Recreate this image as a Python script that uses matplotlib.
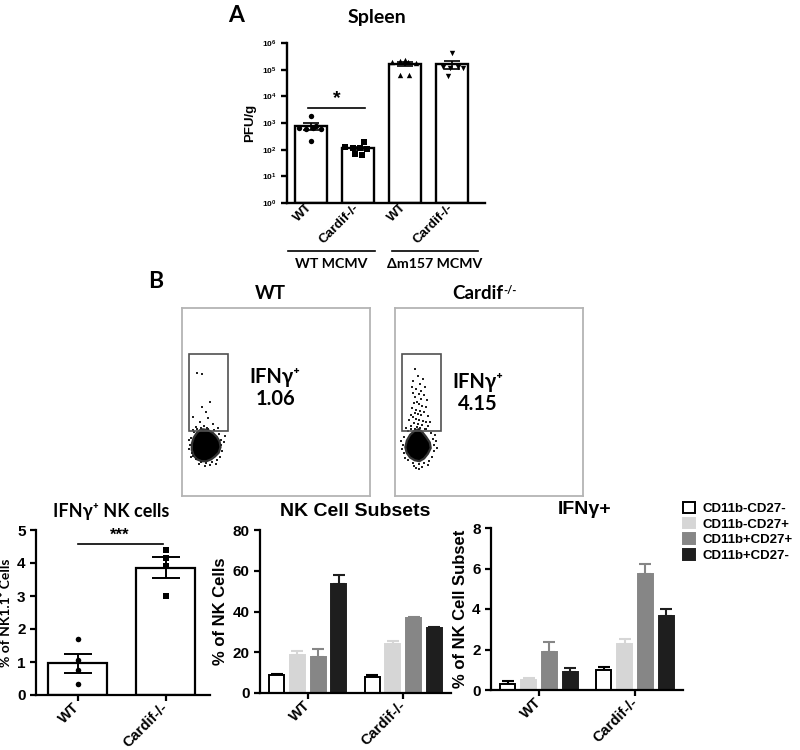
"""Spleen titres, IFNg flow plots and NK subset bars (panels A and B)."""

import numpy as np
import matplotlib

matplotlib.use("Agg")
import matplotlib.pyplot as plt
from matplotlib.patches import Rectangle, Polygon, Patch

W, H = 800, 750
ARIAL = ["Liberation Sans", "DejaVu Sans"]
CALIBRI = ["Lato", "DejaVu Sans"]

# ---- panel A: PFU/g in spleen
SPLEEN_TICKS = ["WT", "Cardif-/-", "WT", "Cardif-/-"]
SPLEEN_GROUPS = ["WT MCMV", "Δm157 MCMV"]
SPLEEN_WT = [1900, 750, 640, 620, 650, 600, 220]
SPLEEN_CARDIF = [190, 125, 120, 115, 110, 68, 65]
SPLEEN_M157_WT = [190000, 210000, 200000, 185000, 230000, 62000, 62000]
SPLEEN_M157_CARDIF = [420000, 130000, 120000, 125000, 115000, 60000]

# ---- panel B: flow plots (axis units 0-100)
FLOW_TITLES = ["WT", "Cardif"]
FLOW_PCT = ["1.06", "4.15"]
WT_CORE_OUTLINE = [(11, 35.5), (14, 35), (16.5, 33.5), (18.5, 31.5), (20, 29), (20.5, 26),
                   (19.5, 23), (17.5, 21), (15.5, 19.5), (13, 18.5), (10.5, 18.5), (8, 19.5),
                   (6.2, 21.5), (5.2, 24.5), (5.3, 28), (6.2, 31), (7.8, 33.5), (9.5, 35)]
CARDIF_CORE_OUTLINE = [(12.5, 35.5), (14.5, 34), (16.5, 31.5), (18.5, 28.5), (19, 25.5),
                       (17.5, 22.5), (15.5, 20), (13, 18.5), (10.5, 19), (8, 20.5),
                       (6.2, 23), (5.5, 26), (6.3, 29.5), (8, 32.5), (10.5, 34.8)]
WT_GATE_EVENTS = [(8.2, 65.3), (10.5, 64.9), (14.9, 50.2), (10.5, 47.5), (12.8, 44.8),
                  (6.0, 42.2), (14.0, 41.3), (9.6, 39.5), (16.5, 38.5), (11.5, 37.2),
                  (7.5, 36.5), (13.5, 36.0)]
WT_EDGE_EVENTS = [(4.5, 27), (5.0, 31), (5.2, 23), (4.8, 20.5), (6.5, 34), (8, 35.5),
                  (10, 36), (14, 35.8), (17, 35), (19.5, 33), (20.5, 30), (21, 27),
                  (21.5, 24), (20, 21), (18.5, 19), (16, 18), (13, 17.5), (10, 18),
                  (7.5, 19.5), (6, 21.5), (3.8, 25), (22.3, 28.5), (19, 36.4),
                  (5.7, 35.2), (9, 16.8), (15, 16.5), (23, 32), (3.5, 30), (12, 16),
                  (18, 17.2)]
CARDIF_GATE_EVENTS = [(10.5, 67.5), (12, 64), (14.8, 62.5), (9.8, 61), (13.2, 59.5),
                      (16, 58.2), (11, 57), (14, 56), (9.5, 55), (12.8, 54.2),
                      (15.5, 53.5), (10.8, 52.4), (13.6, 51.5), (17, 51), (11.8, 50.2),
                      (9.2, 57.8), (10.2, 49.4), (12.5, 48.8), (14.6, 48.1), (16.4, 47.4),
                      (9.1, 46.6), (11.4, 46), (13.3, 45.4), (15.2, 44.8), (10.4, 44.1),
                      (12.1, 43.5), (14, 42.9), (17.8, 42.6), (8.4, 43.2), (9.6, 41.8),
                      (11.2, 41.2), (13, 40.6), (15.1, 40.1), (16.7, 39.6), (10.1, 39),
                      (12.2, 38.4), (14.2, 37.9), (8.7, 37.3), (11.5, 36.8), (13.4, 36.3),
                      (15.8, 35.9), (10.6, 35.4), (12.8, 35), (17.5, 37), (7.6, 40.5),
                      (18.6, 39.2)]
CARDIF_EDGE_EVENTS = [(4.0, 27), (4.6, 31.5), (5.0, 23), (5.5, 20), (6.8, 34.5),
                      (8.5, 35.8), (16.5, 35.5), (19, 33.5), (20, 30.5), (20.5, 27),
                      (20.8, 24), (19.5, 21), (18, 18.8), (15.5, 17.5), (12.5, 16.8),
                      (9.5, 17.6), (7, 19), (3.5, 25), (21.8, 29), (6, 36), (10, 15.8),
                      (14.5, 15.5), (22.5, 25.5), (3.2, 29.5), (17.5, 16.5), (11, 14.8),
                      (13, 14.2), (21.5, 32.5)]

# ---- IFNg+ NK cells (% of NK1.1+)
NK_TICKS = ["WT", "Cardif-/-"]
NK_WT = [1.7, 1.05, 0.75, 0.32]
NK_CARDIF = [4.4, 4.15, 3.9, 3.0]

# ---- NK subsets
SUBSETS = ["CD11b-CD27-", "CD11b-CD27+", "CD11b+CD27+", "CD11b+CD27-"]
SUBSET_PCT_WT = [8.7, 18.5, 17.8, 53.3]
SUBSET_SEM_WT = [0.5, 1.9, 4.0, 4.8]
SUBSET_PCT_CARDIF = [7.7, 24.2, 36.8, 31.8]
SUBSET_SEM_CARDIF = [1.1, 1.1, 0.6, 0.8]
IFNG_PCT_WT = [0.28, 0.48, 1.86, 0.90]
IFNG_SEM_WT = [0.18, 0.13, 0.52, 0.20]
IFNG_PCT_CARDIF = [1.00, 2.26, 5.72, 3.66]
IFNG_SEM_CARDIF = [0.12, 0.24, 0.50, 0.34]

SUBSET_FACE = ["white", "#d6d6d6", "#868686", "#1e1e1e"]
SUBSET_EDGE = ["black", "#d6d6d6", "#868686", "#1e1e1e"]


def add_axes_px(fig, left, top, right, bottom):
    return fig.add_axes([left / W, 1 - bottom / H, (right - left) / W, (bottom - top) / H])


def fig_text(fig, x, y, s, **kw):
    return fig.text(x / W, 1 - y / H, s, ha="center", va="center", **kw)


def style_axes(ax, lw=1.6, labelsize=11):
    for side in ("top", "right"):
        ax.spines[side].set_visible(False)
    for side in ("left", "bottom"):
        ax.spines[side].set_linewidth(lw)
    ax.tick_params(direction="out", length=4, width=lw, labelsize=labelsize)


def mean_sem(vals):
    vals = np.asarray(vals, dtype=float)
    return vals.mean(), vals.std(ddof=1) / np.sqrt(len(vals))


def panel_a(fig):
    ax = add_axes_px(fig, 287, 43, 485, 203)
    ax.set_yscale("log")
    groups = [SPLEEN_WT, SPLEEN_CARDIF, SPLEEN_M157_WT, SPLEEN_M157_CARDIF]
    jitter = [[0, 0.11, -0.24, -0.09, 0.06, 0.22, 0],
              [0.13, -0.26, -0.1, 0.05, 0.2, -0.06, 0.1],
              [-0.26, -0.09, 0.07, 0.25, 0, -0.09, 0.09],
              [0, -0.18, -0.04, 0.14, 0.25, -0.07]]
    markers = ["o", "s", "^", "v"]
    for i, vals in enumerate(groups):
        m, s = mean_sem(vals)
        ax.bar(i, m - 1, bottom=1, width=0.68, color="white", edgecolor="black",
               linewidth=1.7, zorder=2)
        ax.errorbar(i, m, yerr=s, color="black", capsize=6, elinewidth=1.2,
                    capthick=1.2, zorder=3)
        ax.scatter(i + np.array(jitter[i]), vals, marker=markers[i], s=15,
                   color="black", linewidths=0, zorder=4)
    ax.set_ylim(1, 1e6)
    ax.set_xlim(-0.5, 3.71)
    ax.set_yticks([10.0 ** k for k in range(7)])
    ax.minorticks_off()
    style_axes(ax, lw=1.7, labelsize=6)
    ax.tick_params(axis="x", length=0, pad=2)
    ax.set_xticks(range(4))
    ax.set_xticklabels(SPLEEN_TICKS, rotation=45, ha="right", va="center",
                       rotation_mode="anchor", fontsize=9.5)
    ax.set_ylabel("PFU/g", fontsize=9.5, labelpad=4)

    ax.plot([-0.05, 1.16], [10 ** 3.56] * 2, color="black", lw=1.2)
    ax.text(0.56, 10 ** 3.6, "*", ha="center", va="bottom", fontsize=14)

    tr = ax.get_xaxis_transform()
    ax.plot([-0.48, 1.37], [-0.3, -0.3], color="black", lw=1.2, transform=tr, clip_on=False)
    ax.plot([1.73, 3.56], [-0.3, -0.3], color="black", lw=1.2, transform=tr, clip_on=False)
    ax.text(0.445, -0.38, SPLEEN_GROUPS[0], transform=tr, ha="center", va="center",
            family=CALIBRI, fontsize=10.2)
    ax.text(2.645, -0.38, SPLEEN_GROUPS[1], transform=tr, ha="center", va="center",
            family=CALIBRI, fontsize=10.2)

    fig_text(fig, 377, 18, "Spleen", family=CALIBRI, fontsize=14)
    fig_text(fig, 236, 15, "A", family=CALIBRI, fontsize=16.5)


def flow_plot(fig, left, outline, gate_events, edge_events, pct, label_xy):
    ax = add_axes_px(fig, left, 308, left + 188, 496)
    ax.set_xlim(0, 100)
    ax.set_ylim(0, 100)
    ax.set_xticks([])
    ax.set_yticks([])
    for sp in ax.spines.values():
        sp.set_color("#b4b4b4")
        sp.set_linewidth(1.3)
    ax.add_patch(Polygon(outline, closed=True, facecolor="black", edgecolor="#333333",
                         lw=1.6, zorder=2))
    pts = np.array(gate_events + edge_events)
    ax.scatter(pts[:, 0], pts[:, 1], s=0.7, marker="s", color="#222222",
               linewidths=0, zorder=3)
    ax.add_patch(Rectangle((3.7, 34.6), 20.8, 40.9, fill=False, edgecolor="#505050",
                           lw=1.2, zorder=4))
    ax.text(label_xy[0], label_xy[1], "IFNγ⁺", ha="center", va="center",
            family=CALIBRI, fontsize=14.5)
    ax.text(label_xy[0], label_xy[1] - 11.5, pct, ha="center", va="center",
            family=CALIBRI, fontsize=14.5)
    return ax


def panel_b_flow(fig):
    flow_plot(fig, 182, WT_CORE_OUTLINE, WT_GATE_EVENTS, WT_EDGE_EVENTS,
              FLOW_PCT[0], (49.5, 63.3))
    flow_plot(fig, 395, CARDIF_CORE_OUTLINE, CARDIF_GATE_EVENTS, CARDIF_EDGE_EVENTS,
              FLOW_PCT[1], (44.0, 60.6))
    fig_text(fig, 270, 293, FLOW_TITLES[0], family=CALIBRI, fontsize=13.5)
    t = fig_text(fig, 478, 293, FLOW_TITLES[1], family=CALIBRI, fontsize=13.5)
    fig.axes[-1].annotate("-/-", xy=(1.0, 1.0), xycoords=t, ha="left", va="top",
                          family=CALIBRI, fontsize=8, annotation_clip=False)
    fig_text(fig, 156, 282, "B", family=CALIBRI, fontsize=16.5)


def panel_nk(fig):
    ax = add_axes_px(fig, 36, 530, 210, 695)
    markers = ["o", "s"]
    for i, vals in enumerate([NK_WT, NK_CARDIF]):
        m, s = mean_sem(vals)
        ax.bar(i, m, width=0.67, color="white", edgecolor="black", linewidth=1.6, zorder=2)
        ax.errorbar(i, m, yerr=s, color="black", capsize=10, elinewidth=1.4,
                    capthick=1.4, zorder=3)
        ax.scatter(np.full(len(vals), i), vals, marker=markers[i], s=16,
                   color="black", linewidths=0, zorder=4)
    ax.set_xlim(-0.47, 1.5)
    ax.set_ylim(0, 5)
    ax.set_yticks(range(6))
    style_axes(ax)
    ax.set_xticks([0, 1])
    ax.set_xticklabels(NK_TICKS, rotation=45, ha="right", va="center",
                       rotation_mode="anchor", fontsize=10.5)
    ax.set_ylabel("% of NK1.1⁺ Cells", family=CALIBRI, fontsize=10, labelpad=4)
    ax.plot([0, 0.97], [4.57, 4.57], color="black", lw=1.2)
    ax.text(0.48, 4.6, "***", ha="center", va="bottom", fontsize=12)
    fig_text(fig, 111, 512, "IFNγ⁺ NK cells", family=CALIBRI, fontsize=13)


def grouped_bars(ax, wt, wt_sem, cardif, cardif_sem):
    offsets = np.array([-1.5, -0.5, 0.5, 1.5]) * 0.216
    for g, (vals, sems) in enumerate([(wt, wt_sem), (cardif, cardif_sem)]):
        for k in range(4):
            x = g + offsets[k]
            ax.bar(x, vals[k], width=0.157, color=SUBSET_FACE[k],
                   edgecolor=SUBSET_EDGE[k], linewidth=1.4, zorder=2)
            ax.errorbar(x, vals[k], yerr=[[0], [sems[k]]], color=SUBSET_EDGE[k],
                        capsize=4, elinewidth=1.5, capthick=1.5, zorder=1)
    ax.set_xlim(-0.5, 1.5)
    style_axes(ax)
    ax.set_xticks([0, 1])
    ax.set_xticklabels(NK_TICKS, rotation=45, ha="right", va="center",
                       rotation_mode="anchor", fontsize=10.5)


def panel_subsets(fig):
    ax = add_axes_px(fig, 260, 530, 451, 693)
    grouped_bars(ax, SUBSET_PCT_WT, SUBSET_SEM_WT, SUBSET_PCT_CARDIF, SUBSET_SEM_CARDIF)
    ax.set_ylim(0, 80)
    ax.set_yticks(range(0, 81, 20))
    ax.set_ylabel("% of NK Cells", fontsize=12, labelpad=3)
    fig_text(fig, 355, 512, "NK Cell Subsets", fontsize=14)

    ax2 = add_axes_px(fig, 491, 528, 683, 690)
    grouped_bars(ax2, IFNG_PCT_WT, IFNG_SEM_WT, IFNG_PCT_CARDIF, IFNG_SEM_CARDIF)
    ax2.set_ylim(0, 8)
    ax2.set_yticks(range(0, 9, 2))
    ax2.set_ylabel("% of NK Cell Subset", fontsize=12, labelpad=3)
    fig_text(fig, 585, 510, "IFNγ+", fontsize=14)

    handles = [Patch(facecolor=SUBSET_FACE[k], edgecolor=SUBSET_EDGE[k], linewidth=1.4)
               for k in range(4)]
    fig.legend(handles, SUBSETS, loc="upper left", bbox_to_anchor=(683 / W, 1 - 502 / H),
               frameon=False, handlelength=0.9, handleheight=0.9, handletextpad=0.6,
               labelspacing=0.19, borderpad=0, borderaxespad=0,
               prop={"family": ARIAL, "weight": "bold", "size": 9.5})


def main():
    plt.rcParams.update({
        "font.family": ARIAL,
        "font.weight": "bold",
        "axes.labelweight": "bold",
    })
    fig = plt.figure(figsize=(W / 100, H / 100), dpi=100)
    fig.patch.set_facecolor("white")

    panel_a(fig)
    panel_b_flow(fig)
    panel_nk(fig)
    panel_subsets(fig)

    fig.savefig("out.png", dpi=100)


if __name__ == "__main__":
    main()
